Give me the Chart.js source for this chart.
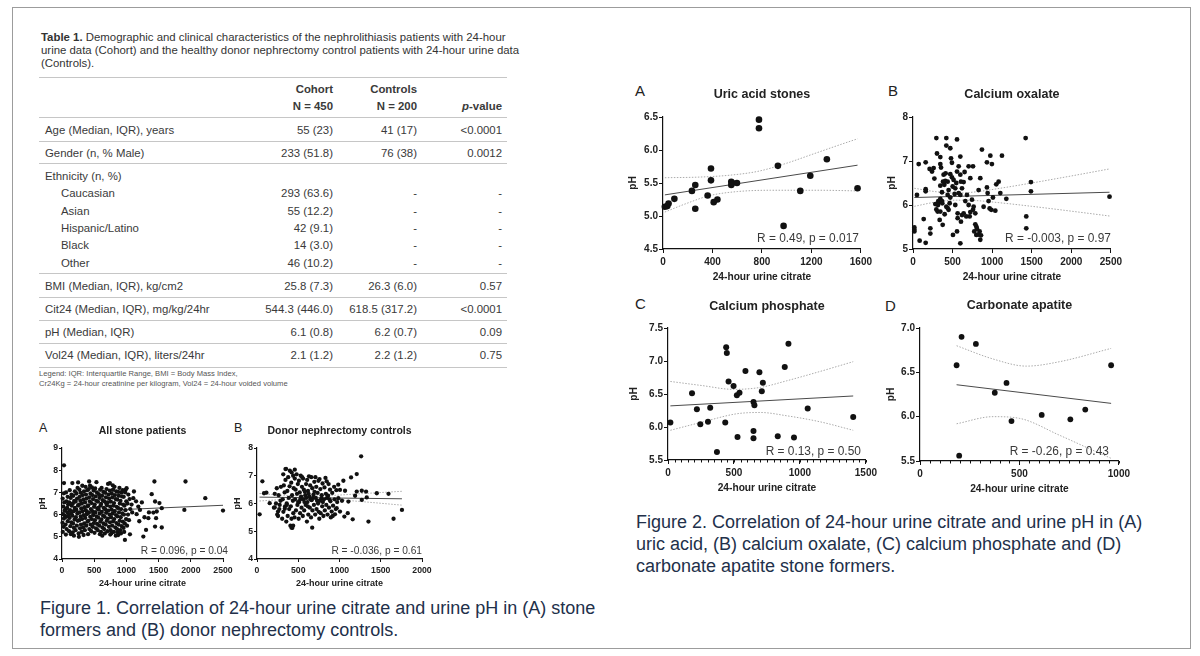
<!DOCTYPE html>
<html>
<head>
<meta charset="utf-8">
<script src="https://cdn.jsdelivr.net/npm/chart.js"></script>
<style>
body{margin:0;width:1200px;height:656px;background:#fff;position:relative;overflow:hidden;
  font-family:"Liberation Sans",Arial,sans-serif;color:#333}
#frame{position:absolute;left:12px;top:7px;width:1177px;height:640px;border:1px solid #9c9c9c}
#tcap{position:absolute;left:41px;top:31px;font-size:11.4px;line-height:13px;white-space:nowrap;color:#333}
.rule{position:absolute;left:39px;width:468px;height:0;border-top:1px solid #c6c6c6}
.row{position:absolute;left:39px;width:468px;height:14px;line-height:14px;font-size:11.4px;color:#3a3a3a;white-space:nowrap}
.row span{position:absolute;top:0}
.lab{left:6px}.ind{left:22px}.c1{right:174px}.c2{right:90px}.c3{right:5px}
.b{font-weight:bold}
#legend{position:absolute;left:39px;top:369px;font-size:7.6px;line-height:9.5px;color:#555;white-space:nowrap}
.cap{position:absolute;font-size:18px;line-height:22px;color:#22304a;white-space:nowrap}
.let{position:absolute;color:#222;line-height:1}
canvas{position:absolute}
</style>
</head>
<body>
<div id="frame"></div>

<div id="tcap"><b>Table 1.</b> Demographic and clinical characteristics of the nephrolithiasis patients with 24-hour<br>urine data (Cohort) and the healthy donor nephrectomy control patients with 24-hour urine data<br>(Controls).</div>

<div class="rule" style="top:77px"></div>
<div class="row" style="top:82px"><span class="c1 b">Cohort</span><span class="c2 b">Controls</span></div>
<div class="row" style="top:99px"><span class="c1 b">N = 450</span><span class="c2 b">N = 200</span><span class="c3 b"><i>p</i>-value</span></div>
<div class="rule" style="top:117px"></div>
<div class="row" style="top:123px"><span class="lab">Age (Median, IQR), years</span><span class="c1">55 (23)</span><span class="c2">41 (17)</span><span class="c3">&lt;0.0001</span></div>
<div class="rule" style="top:141px"></div>
<div class="row" style="top:146px"><span class="lab">Gender (n, % Male)</span><span class="c1">233 (51.8)</span><span class="c2">76 (38)</span><span class="c3">0.0012</span></div>
<div class="rule" style="top:163px"></div>
<div class="row" style="top:169px"><span class="lab">Ethnicity (n, %)</span></div>
<div class="row" style="top:186px"><span class="ind">Caucasian</span><span class="c1">293 (63.6)</span><span class="c2">-</span><span class="c3">-</span></div>
<div class="row" style="top:204px"><span class="ind">Asian</span><span class="c1">55 (12.2)</span><span class="c2">-</span><span class="c3">-</span></div>
<div class="row" style="top:221px"><span class="ind">Hispanic/Latino</span><span class="c1">42 (9.1)</span><span class="c2">-</span><span class="c3">-</span></div>
<div class="row" style="top:238px"><span class="ind">Black</span><span class="c1">14 (3.0)</span><span class="c2">-</span><span class="c3">-</span></div>
<div class="row" style="top:256px"><span class="ind">Other</span><span class="c1">46 (10.2)</span><span class="c2">-</span><span class="c3">-</span></div>
<div class="rule" style="top:273px"></div>
<div class="row" style="top:279px"><span class="lab">BMI (Median, IQR), kg/cm2</span><span class="c1">25.8 (7.3)</span><span class="c2">26.3 (6.0)</span><span class="c3">0.57</span></div>
<div class="rule" style="top:297px"></div>
<div class="row" style="top:302px"><span class="lab">Cit24 (Median, IQR), mg/kg/24hr</span><span class="c1">544.3 (446.0)</span><span class="c2">618.5 (317.2)</span><span class="c3">&lt;0.0001</span></div>
<div class="rule" style="top:320px"></div>
<div class="row" style="top:325px"><span class="lab">pH (Median, IQR)</span><span class="c1">6.1 (0.8)</span><span class="c2">6.2 (0.7)</span><span class="c3">0.09</span></div>
<div class="rule" style="top:343px"></div>
<div class="row" style="top:348px"><span class="lab">Vol24 (Median, IQR), liters/24hr</span><span class="c1">2.1 (1.2)</span><span class="c2">2.2 (1.2)</span><span class="c3">0.75</span></div>
<div class="rule" style="top:367px"></div>
<div id="legend">Legend: IQR: Interquartile Range, BMI = Body Mass Index,<br>Cr24Kg = 24-hour creatinine per kilogram, Vol24 = 24-hour voided volume</div>

<div class="let" style="left:39px;top:422px;font-size:12.5px">A</div>
<div class="let" style="left:234px;top:422px;font-size:12.5px">B</div>
<div class="let" style="left:635px;top:83px;font-size:15px">A</div>
<div class="let" style="left:888px;top:83px;font-size:15px">B</div>
<div class="let" style="left:635px;top:296px;font-size:15px">C</div>
<div class="let" style="left:885px;top:298px;font-size:15px">D</div>

<div class="cap" style="left:40px;top:597px">Figure 1. Correlation of 24-hour urine citrate and urine pH in (A) stone<br>formers and (B) donor nephrectomy controls.</div>
<div class="cap" style="left:636px;top:511px">Figure 2. Correlation of 24-hour urine citrate and urine pH in (A)<br>uric acid, (B) calcium oxalate, (C) calcium phosphate and (D)<br>carbonate apatite stone formers.</div>

<script>
// ---- data: [citrate, pH] ----
var stonePts = [
  [31,8.22],[31,7.42],[12,5.22],[25,5.45],[8,5.63],[30,5.82],[15,6.02],[40,6.18],[20,6.36],[35,6.55],[10,6.72],[28,6.96],[45,5.95],
  [60,5.1],[72,5.35],[55,5.55],[90,5.7],[65,5.9],[85,6.1],[58,6.25],[95,6.45],[70,6.6],[88,6.8],[62,7.0],[80,6.3],[100,5.95],
  [110,5.25],[130,5.48],[145,5.65],[118,5.85],[140,6.05],[125,6.2],[150,6.4],[112,6.55],[135,6.75],[148,6.9],[120,7.1],[161,7.42],[138,5.12],
  [165,5.2],[185,5.4],[172,5.6],[195,5.78],[160,5.95],[180,6.15],[198,6.3],[168,6.5],[190,6.62],[175,6.85],[200,7.05],[185,5.05],
  [210,5.3],[230,5.5],[245,5.72],[215,5.88],[238,6.05],[222,6.22],[248,6.4],[212,6.58],[235,6.72],[225,6.95],[242,7.2],[250,7.45],
  [262,5.0],[258,5.15],[280,5.38],[295,5.55],[268,5.75],[290,5.92],[272,6.1],[298,6.28],[265,6.45],[285,6.62],[275,6.8],[292,6.98],[270,7.12],
  [305,5.22],[328,5.42],[345,5.6],[312,5.8],[338,5.98],[318,6.15],[348,6.33],[308,6.5],[332,6.68],[322,6.88],[342,7.05],[315,7.3],[335,5.08],
  [355,5.3],[378,5.5],[395,5.68],[362,5.85],[385,6.02],[370,6.2],[398,6.38],[358,6.55],[382,6.72],[372,6.9],[392,7.1],[365,7.25],[388,6.12],
  [405,5.12],[425,5.35],[445,5.55],[412,5.72],[438,5.9],[418,6.08],[448,6.25],[408,6.42],[432,6.6],[422,6.78],[442,6.95],[415,7.15],[435,7.3],[421,7.49],
  [455,5.25],[478,5.45],[495,5.62],[462,5.8],[485,5.98],[470,6.16],[498,6.35],[458,6.52],[482,6.7],[472,6.88],[492,7.08],[465,7.22],[488,6.05],
  [505,5.18],[528,5.38],[545,5.58],[512,5.75],[538,5.92],[518,6.1],[548,6.28],[508,6.45],[532,6.62],[522,6.82],[542,7.0],[515,7.18],[535,7.46],
  [555,5.3],[578,5.5],[595,5.68],[562,5.86],[585,6.04],[570,6.22],[598,6.4],[558,6.58],[582,6.75],[572,6.92],[592,7.12],[565,6.3],[588,5.12],
  [605,5.22],[628,5.42],[645,5.6],[612,5.78],[638,5.95],[618,6.12],[648,6.3],[608,6.48],[632,6.65],[622,6.85],[642,7.02],[615,7.2],[625,5.05],
  [655,5.35],[678,5.55],[695,5.72],[662,5.9],[685,6.08],[670,6.25],[698,6.42],[658,6.6],[682,6.78],[672,6.98],[692,7.15],[665,5.15],[688,6.5],
  [705,5.25],[728,5.45],[745,5.65],[712,5.82],[738,6.0],[718,6.18],[748,6.36],[708,6.55],[732,6.72],[722,6.9],[742,7.08],[715,7.38],[743,7.42],[750,5.1],
  [755,5.3],[778,5.5],[795,5.7],[762,5.88],[785,6.05],[770,6.22],[798,6.4],[758,6.58],[782,6.78],[772,6.95],[792,7.12],[765,5.15],[788,7.32],
  [805,5.22],[828,5.42],[845,5.62],[812,5.8],[838,5.98],[818,6.15],[848,6.35],[808,6.52],[832,6.7],[822,6.88],[842,7.05],[815,7.25],[835,5.05],
  [855,5.35],[878,5.55],[895,5.72],[862,5.92],[885,6.1],[870,6.3],[898,6.5],[858,6.68],[882,6.85],[872,7.02],[892,7.2],[865,5.2],[873,5.08],
  [905,5.3],[928,5.48],[945,5.68],[912,5.88],[938,6.05],[918,6.25],[948,6.45],[908,6.62],[932,6.82],[922,7.0],[942,7.1],[915,5.15],
  [955,5.4],[975,5.6],[995,5.8],[962,6.0],[985,6.2],[970,6.4],[998,6.6],[958,6.8],[980,7.0],[990,7.12],[965,5.22],[977,4.86],
  [1010,5.5],[1040,5.75],[1025,6.0],[1060,6.25],[1015,6.5],[1050,6.7],[1030,6.9],[1003,7.19],[1080,6.45],[1055,5.11],[1090,6.1],
  [1107,6.74],[1117,7.04],[1150,6.6],[1159,6.02],[1185,6.36],[1200,5.7],[1211,6.21],[1240,6.55],[1263,5.01],[1280,5.88],[1305,5.31],
  [1341,5.84],[1350,6.1],[1393,6.92],[1419,6.09],[1435,7.49],[1445,6.59],[1445,5.46],[1461,5.84],[1471,6.14],[1513,6.52],[1549,6.29],
  [1549,5.42],[1900,6.21],[1918,7.49],[2225,6.74],[2500,6.18]
];
var stoneFit = [[0,6.11],[2500,6.42]];

var donorPts = [
  [32,5.61],[65,6.8],[85,6.37],[114,6.39],[154,6.01],[215,5.86],[255,5.71],[337,5.81],
  [205,5.85],[230,6.0],[245,5.6],[215,6.35],[240,6.55],
  [255,5.55],[270,5.8],[285,6.1],[262,6.3],[290,6.6],[275,5.95],
  [305,5.45],[320,5.7],[340,5.9],[312,6.15],[335,6.4],[325,6.65],[345,6.85],[318,7.05],[345,7.24],
  [355,5.35],[372,5.55],[390,5.8],[360,6.0],[385,6.2],[368,6.45],[395,6.62],[378,6.95],[352,7.25],[398,7.18],[362,5.95],
  [405,5.2],[418,5.45],[440,5.65],[410,5.9],[435,6.1],[425,6.3],[445,6.55],[415,6.75],[438,7.0],[420,7.12],[428,5.12],[418,5.13],[438,5.2],
  [455,5.5],[472,5.75],[490,5.95],[462,6.15],[485,6.35],[468,6.5],[495,6.7],[458,6.9],[480,7.05],[498,6.05],[458,7.22],
  [505,5.45],[522,5.65],[540,5.85],[512,6.05],[535,6.25],[518,6.4],[545,6.6],[508,6.82],[530,7.0],[548,6.95],[525,6.15],
  [555,5.55],[572,5.75],[590,5.95],[562,6.15],[585,6.3],[568,6.5],[595,6.7],[558,6.9],[580,6.42],[598,6.2],[575,6.05],
  [605,5.35],[622,5.6],[640,5.85],[612,6.05],[635,6.25],[618,6.45],[645,6.65],[608,6.85],[630,6.98],[625,6.35],[648,6.15],[615,5.9],
  [655,5.5],[669,5.13],[672,5.75],[690,5.95],[662,6.12],[685,6.32],[670,6.55],[695,6.78],[658,6.95],[680,6.2],[698,6.42],
  [705,5.6],[722,5.8],[740,6.0],[712,6.2],[735,6.38],[718,6.6],[745,6.82],[708,6.95],[728,6.1],[748,5.7],
  [755,5.45],[772,5.65],[790,5.9],[762,6.1],[785,6.3],[768,6.52],[795,6.72],[758,6.88],[780,6.18],[798,6.05],
  [805,5.55],[822,5.75],[840,5.95],[812,6.15],[835,6.35],[818,6.58],[845,6.8],[830,6.92],[848,6.2],
  [855,5.6],[872,5.85],[890,6.08],[862,6.28],[885,6.5],[868,6.7],[895,5.5],[878,6.15],
  [905,5.71],[922,5.92],[940,6.15],[912,6.38],[935,6.6],[918,5.55],[945,5.61],
  [955,5.8],[966,5.83],[972,6.05],[986,6.19],[962,6.48],[985,6.68],[1006,6.49],[1006,5.71],
  [1030,6.1],[1047,6.82],[1059,5.53],[1067,6.46],[1100,5.65],[1108,6.07],[1140,6.94],[1160,5.43],
  [1189,6.28],[1209,6.43],[1209,7.06],[1262,7.7],[1270,6.13],[1270,6.46],[1322,6.43],[1330,6.22],
  [1351,5.35],[1452,6.37],[1594,6.35],[1655,5.45],[1757,5.77]
];
var donorFit = [[30,6.23],[1757,6.17]];
var donorCiUp = [[30,6.36],[300,6.3],[600,6.27],[900,6.29],[1300,6.36],[1757,6.44]];
var donorCiLo = [[30,6.09],[300,6.14],[600,6.17],[900,6.15],[1300,6.06],[1757,5.94]];

var uricPts = [
  [15,5.14],[35,5.15],[45,5.19],[92,5.26],[234,5.38],[261,5.47],[261,5.11],[361,5.31],[388,5.72],[388,5.54],
  [410,5.21],[440,5.25],[552,5.52],[552,5.47],[560,5.5],[598,5.5],[776,6.46],[776,6.33],[929,5.76],[975,4.85],
  [1110,5.38],[1191,5.61],[1325,5.86],[1573,5.42]
];
var uricFit = [[15,5.32],[1573,5.77]];
var uricCiUp = [[15,5.58],[300,5.59],[550,5.62],[776,5.68],[1000,5.8],[1200,5.93],[1400,6.06],[1573,6.17]];
var uricCiLo = [[15,5.06],[190,5.19],[380,5.31],[600,5.37],[870,5.39],[1270,5.39],[1573,5.38]];

var oxalatePts = [
  [17,5.49],[17,5.4],[17,5.44],[50,6.23],[72,6.93],[84,5.19],[135,5.68],[160,6.97],[160,6.36],[160,6.31],[160,5.14],
  [219,5.47],[219,5.35],[210,6.82],[240,6.76],[261,6.84],[270,6.6],[282,6.02],[295,5.9],[311,5.85],[303,7.17],[295,7.52],
  [345,6.93],[354,6.85],[345,7.09],[320,6.09],[324,6.06],[345,6.14],[366,6.09],[316,6.0],[370,6.04],[337,5.66],[375,5.55],
  [345,6.44],[379,6.53],[396,6.46],[408,6.55],[421,7.35],[421,7.52],[438,6.53],[450,6.34],[450,5.89],[471,7.29],[480,7.06],
  [492,6.96],[471,6.7],[492,6.63],[513,6.57],[501,6.42],[438,6.23],[471,6.17],[421,5.96],[438,5.93],[526,6.25],[534,6.38],
  [547,6.5],[505,5.32],[556,5.4],[556,7.49],[598,7.1],[556,6.76],[577,6.88],[598,6.69],[606,6.53],[577,6.27],[598,6.23],
  [564,5.7],[606,5.62],[598,5.13],[619,5.77],[640,5.81],[640,6.52],[652,6.75],[661,6.09],[673,5.74],[703,6.88],[724,6.61],
  [716,5.74],[724,5.84],[758,5.89],[758,6.88],[766,5.96],[787,5.56],[800,5.51],[808,5.46],[774,5.4],[800,5.32],[829,5.33],
  [842,5.4],[859,5.31],[850,5.21],[829,6.34],[850,6.61],[871,7.26],[892,5.96],[934,6.4],[943,6.27],[955,6.09],[968,5.92],
  [989,5.89],[934,6.97],[977,7.12],[997,6.93],[1010,6.17],[1040,5.87],[1052,6.47],[1082,6.53],[1103,6.27],[1124,7.12],
  [1179,6.14],[1423,7.52],[1431,5.74],[1431,5.47],[1490,6.52],[1490,6.31],[2483,6.19],
  [345,5.85],[400,5.79],[387,6.69],[412,6.72],[366,6.29],[463,6.04],[534,6.0],[564,5.81],[619,6.38],[682,6.23],[703,6.0],[745,6.12],[787,5.81]
];
var oxalateFit = [[17,6.17],[2483,6.29]];
var oxalateCiUp = [[17,6.38],[300,6.3],[550,6.27],[800,6.3],[1100,6.38],[1500,6.5],[2000,6.66],[2483,6.82]];
var oxalateCiLo = [[17,5.97],[300,6.07],[550,6.11],[800,6.1],[1100,6.05],[1500,5.97],[2000,5.86],[2483,5.75]];

var phosphatePts = [
  [18,6.07],[182,6.51],[219,6.27],[245,6.04],[320,6.29],[303,6.08],[371,5.62],[441,7.21],[446,7.12],[434,6.07],
  [459,6.69],[497,6.62],[522,6.48],[542,6.52],[527,5.85],[587,6.85],[648,6.38],[655,6.33],[648,5.94],[648,5.83],
  [693,6.83],[711,6.54],[719,6.67],[832,5.86],[885,6.91],[913,7.26],[955,5.84],[1059,6.28],[1404,6.15]
];
var phosphateFit = [[18,6.32],[1404,6.47]];
var phosphateCiUp = [[18,6.69],[250,6.63],[500,6.57],[700,6.6],[900,6.7],[1150,6.84],[1404,6.99]];
var phosphateCiLo = [[18,5.95],[270,6.08],[520,6.2],[700,6.22],[900,6.17],[1150,6.08],[1404,5.95]];

var apatitePts = [[184,6.58],[209,6.9],[281,6.82],[197,5.56],[376,6.27],[435,6.38],[460,5.95],[612,6.02],[756,5.97],[831,6.08],[961,6.58]];
var apatiteFit = [[184,6.36],[961,6.15]];
var apatiteCiUp = [[184,6.8],[368,6.65],[535,6.57],[702,6.62],[961,6.77]];
var apatiteCiLo = [[184,5.92],[368,6.0],[502,5.98],[702,5.79],[870,5.62],[961,5.53]];

// ---- drawing ----
var FONT = '"Liberation Sans", Arial, sans-serif';
Chart.defaults.font.family = FONT;
Chart.defaults.color = '#222';

var rNote = {
  id: 'rNote',
  afterDatasetsDraw: function(chart, args, opts) {
    if (!opts || !opts.text) return;
    var a = chart.chartArea, ctx = chart.ctx;
    ctx.save();
    ctx.font = opts.size + 'px ' + FONT;
    ctx.fillStyle = '#3a3a3a';
    ctx.textAlign = 'right';
    ctx.textBaseline = 'middle';
    ctx.fillText(opts.text, a.right + opts.dx, a.bottom - opts.dy);
    ctx.restore();
  }
};
var minorTicks = {
  id: 'minorTicks',
  afterDraw: function(chart, args, opts) {
    if (!opts || !opts.step) return;
    var s = chart.scales.x, ctx = chart.ctx;
    ctx.save();
    ctx.strokeStyle = '#111';
    ctx.lineWidth = 1;
    for (var v = s.min; v <= s.max; v += opts.step) {
      var px = Math.round(s.getPixelForValue(v)) + 0.5;
      ctx.beginPath();
      ctx.moveTo(px, s.top);
      ctx.lineTo(px, s.top + opts.len);
      ctx.stroke();
    }
    ctx.restore();
  }
};
Chart.register(rNote, minorTicks);

function xy(arr) { return arr.map(function(p){ return {x: p[0], y: p[1]}; }); }

function makePanel(p) {
  var l = p.plot[0], t = p.plot[1], r = p.plot[2], b = p.plot[3];
  var padT = 2;
  var W = p.yw + (r - l) + p.padR;
  var H = padT + p.titleBox + (b - t) + p.xh;
  var cv = document.createElement('canvas');
  cv.width = W; cv.height = H;
  cv.style.left = (l - p.yw) + 'px';
  cv.style.top = (t - p.titleBox - padT) + 'px';
  cv.style.width = W + 'px';
  cv.style.height = H + 'px';
  document.body.appendChild(cv);

  var ds = [{
    type: 'scatter', data: xy(p.pts), pointRadius: p.r, pointHoverRadius: p.r,
    pointBackgroundColor: '#111', pointBorderWidth: 0, borderColor: '#111', clip: false, order: 0
  }];
  if (p.fit) ds.push({type: 'line', data: xy(p.fit), borderColor: '#4a4a4a', borderWidth: 1, pointRadius: 0, fill: false, order: 1});
  [p.ciUp, p.ciLo].forEach(function(ci) {
    if (ci) ds.push({type: 'line', data: xy(ci), borderColor: '#ababab', borderWidth: 1, borderDash: [1.5, 1.5],
      pointRadius: 0, fill: false, cubicInterpolationMode: 'monotone', order: 2});
  });

  var axisGrid = {display: true, drawOnChartArea: false, drawTicks: true, tickLength: p.tickLen, color: '#111', lineWidth: 1};
  new Chart(cv, {
    type: 'scatter',
    data: {datasets: ds},
    options: {
      responsive: false, animation: false, devicePixelRatio: 1,
      layout: {padding: {top: padT, right: p.padR, left: 0, bottom: 0}, autoPadding: false},
      plugins: {
        legend: {display: false},
        tooltip: {enabled: false},
        title: {display: true, text: p.title, fullSize: false, color: '#222',
          font: {size: p.titleSize, weight: 'bold'},
          padding: {top: 0, bottom: p.titleBox - p.titleSize * 1.2}},
        rNote: {text: p.note, size: p.noteSize, dx: p.noteDx, dy: p.noteDy},
        minorTicks: {step: p.minor || 0, len: 2.5}
      },
      scales: {
        x: {
          type: 'linear', min: p.xr[0], max: p.xr[1],
          ticks: {stepSize: p.xr[2], autoSkip: false, maxRotation: 0, padding: p.tickPad, color: '#222',
            font: {size: p.tick, weight: 'bold'}, callback: function(v){ return String(v); }},
          grid: axisGrid,
          border: {display: true, color: '#111', width: 1.2},
          title: {display: true, text: '24-hour urine citrate', color: '#222',
            font: {size: p.axt, weight: 'bold'}, padding: {top: 0, bottom: 0.5}},
          afterFit: function(s){ s.height = p.xh; }
        },
        y: {
          type: 'linear', min: p.yr[0], max: p.yr[1],
          ticks: {stepSize: p.yr[2], autoSkip: false, padding: 1, color: '#222',
            font: {size: p.tick, weight: 'bold'}, callback: function(v){ return v.toFixed(p.yr[3]); }},
          grid: axisGrid,
          border: {display: true, color: '#111', width: 1.2},
          title: {display: true, text: 'pH', color: '#222',
            font: {size: p.axt, weight: 'bold'}, padding: {top: p.ytPad, bottom: 0}},
          afterFit: function(s){ s.width = p.yw; }
        }
      }
    }
  });
}

var fig1 = {yw: 26, ytPad: 1.5, padR: 14, titleSize: 10.5, titleBox: 23, xh: 30, tick: 8.7, tickLen: 3, tickPad: 3, axt: 9, r: 2.15, noteSize: 10.2, noteDy: 8};
var fig2 = {yw: 40, ytPad: 3.7, padR: 14, titleSize: 12.5, titleBox: 30, xh: 35, tick: 10, tickLen: 4, tickPad: 3, axt: 10.2, noteSize: 11.9, noteDy: 10};

makePanel(Object.assign({}, fig1, {plot: [62, 448, 223, 559], title: 'All stone patients', xr: [0, 2500, 500], yr: [4, 9, 1, 0],
  pts: stonePts, fit: stoneFit, note: 'R = 0.096, p = 0.04', noteDx: 5}));
makePanel(Object.assign({}, fig1, {plot: [257, 448, 422, 559], title: 'Donor nephrectomy controls', xr: [0, 2000, 500], yr: [4, 8, 1, 0],
  pts: donorPts, fit: donorFit, ciUp: donorCiUp, ciLo: donorCiLo, note: 'R = -0.036, p = 0.61', noteDx: 0}));

makePanel(Object.assign({}, fig2, {plot: [663, 117, 861, 249], title: 'Uric acid stones', xr: [0, 1600, 400], yr: [4.5, 6.5, 0.5, 1],
  pts: uricPts, fit: uricFit, ciUp: uricCiUp, ciLo: uricCiLo, r: 3.3, note: 'R = 0.49, p = 0.017', noteDx: -2}));
makePanel(Object.assign({}, fig2, {plot: [913, 117, 1111, 249], yw: 30, ytPad: 2.6, title: 'Calcium oxalate', xr: [0, 2500, 500], yr: [5, 8, 1, 0],
  pts: oxalatePts, fit: oxalateFit, ciUp: oxalateCiUp, ciLo: oxalateCiLo, r: 2.4, note: 'R = -0.003, p = 0.97', noteDx: 0}));
makePanel(Object.assign({}, fig2, {plot: [668, 328, 866, 460], yw: 44, ytPad: 3.9, titleBox: 29, title: 'Calcium phosphate', xr: [0, 1500, 500], yr: [5.5, 7.5, 0.5, 1],
  pts: phosphatePts, fit: phosphateFit, ciUp: phosphateCiUp, ciLo: phosphateCiLo, r: 3, minor: 50, note: 'R = 0.13, p = 0.50', noteDx: -5, noteDy: 8.5}));
makePanel(Object.assign({}, fig2, {plot: [920, 328, 1119, 461], ytPad: 4.6, title: 'Carbonate apatite', xr: [0, 1000, 500], yr: [5.5, 7.0, 0.5, 1],
  pts: apatitePts, fit: apatiteFit, ciUp: apatiteCiUp, ciLo: apatiteCiLo, r: 2.9, minor: 50, note: 'R = -0.26, p = 0.43', noteDx: -10, noteDy: 9}));
</script>
</body>
</html>
